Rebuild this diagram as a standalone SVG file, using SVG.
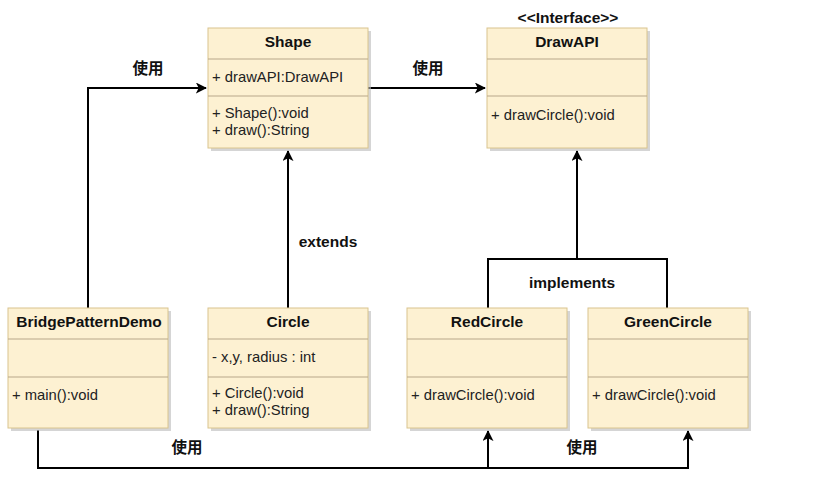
<svg xmlns="http://www.w3.org/2000/svg" width="824" height="479" viewBox="0 0 824 479">
  <style>
    .box { fill: #fdf1d2; stroke: #d9c48e; stroke-width: 1; }
    .shadow { fill: #b9b9b9; opacity: 0.6; }
    .div { stroke: #b8a78a; stroke-width: 1; }
    .title { font-family: "Liberation Sans", Arial, sans-serif; font-size: 15.5px; font-weight: bold; fill: #111; text-anchor: middle; }
    .mem { font-family: "Liberation Sans", Arial, sans-serif; font-size: 14.8px; fill: #222; }
    .lbl { font-family: "Liberation Sans", "Noto Sans CJK SC", sans-serif; font-size: 15.5px; font-weight: bold; fill: #111; text-anchor: middle; }
    .edge { fill: none; stroke: #000; stroke-width: 2; }
  </style>
  <defs>
    <marker id="arrow" viewBox="0 0 12 12" refX="11" refY="6" markerWidth="11" markerHeight="11" markerUnits="userSpaceOnUse" orient="auto">
      <path d="M0,0 L12,6 L0,12 L3,6 Z" fill="#000"/>
    </marker>
  </defs>
  <rect width="824" height="479" fill="#fff"/>

  <g id="connectors">
    <path class="edge" d="M88,308 V88 H206" marker-end="url(#arrow)"/>
    <path class="edge" d="M368,88 H485" marker-end="url(#arrow)"/>
    <path class="edge" d="M288,308 V151" marker-end="url(#arrow)"/>
    <path class="edge" d="M488,308 V259 H667 V308"/>
    <path class="edge" d="M577,259 V151" marker-end="url(#arrow)"/>
    <path class="edge" d="M38,430 V468 H688 V431" marker-end="url(#arrow)"/>
    <path class="edge" d="M488,468 V431" marker-end="url(#arrow)"/>
    <text class="lbl" x="148" y="74">使用</text>
    <text class="lbl" x="428" y="74">使用</text>
    <text class="lbl" x="328" y="247">extends</text>
    <text class="lbl" x="572" y="288">implements</text>
    <text class="lbl" x="187" y="453">使用</text>
    <text class="lbl" x="582" y="453">使用</text>
  </g>

  <g id="shape">
    <rect class="shadow" x="211" y="31" width="160" height="120"/>
    <rect class="box" x="208" y="28" width="160" height="120"/>
    <line class="div" x1="208" y1="59" x2="368" y2="59"/>
    <line class="div" x1="208" y1="96" x2="368" y2="96"/>
    <text class="title" x="288" y="47">Shape</text>
    <text class="mem" x="212" y="82">+ drawAPI:DrawAPI</text>
    <text class="mem" x="212" y="118">+ Shape():void</text>
    <text class="mem" x="212" y="135">+ draw():String</text>
  </g>

  <g id="drawapi">
    <text class="title" x="568" y="23">&lt;&lt;Interface&gt;&gt;</text>
    <rect class="shadow" x="490" y="31" width="160" height="120"/>
    <rect class="box" x="487" y="28" width="160" height="120"/>
    <line class="div" x1="487" y1="59" x2="647" y2="59"/>
    <line class="div" x1="487" y1="96" x2="647" y2="96"/>
    <text class="title" x="567" y="47">DrawAPI</text>
    <text class="mem" x="491" y="120">+ drawCircle():void</text>
  </g>

  <g id="bridgepatterndemo">
    <rect class="shadow" x="11" y="311" width="160" height="120"/>
    <rect class="box" x="8" y="308" width="160" height="120"/>
    <line class="div" x1="8" y1="339" x2="168" y2="339"/>
    <line class="div" x1="8" y1="377" x2="168" y2="377"/>
    <text class="title" x="89" y="327">BridgePatternDemo</text>
    <text class="mem" x="12" y="400">+ main():void</text>
  </g>

  <g id="circle">
    <rect class="shadow" x="211" y="311" width="160" height="120"/>
    <rect class="box" x="208" y="308" width="160" height="120"/>
    <line class="div" x1="208" y1="339" x2="368" y2="339"/>
    <line class="div" x1="208" y1="377" x2="368" y2="377"/>
    <text class="title" x="288" y="327">Circle</text>
    <text class="mem" x="212" y="362">- x,y, radius : int</text>
    <text class="mem" x="212" y="398">+ Circle():void</text>
    <text class="mem" x="212" y="415">+ draw():String</text>
  </g>

  <g id="redcircle">
    <rect class="shadow" x="410" y="311" width="160" height="120"/>
    <rect class="box" x="407" y="308" width="160" height="120"/>
    <line class="div" x1="407" y1="339" x2="567" y2="339"/>
    <line class="div" x1="407" y1="377" x2="567" y2="377"/>
    <text class="title" x="487" y="327">RedCircle</text>
    <text class="mem" x="411" y="400">+ drawCircle():void</text>
  </g>

  <g id="greencircle">
    <rect class="shadow" x="591" y="311" width="160" height="120"/>
    <rect class="box" x="588" y="308" width="160" height="120"/>
    <line class="div" x1="588" y1="339" x2="748" y2="339"/>
    <line class="div" x1="588" y1="377" x2="748" y2="377"/>
    <text class="title" x="668" y="327">GreenCircle</text>
    <text class="mem" x="592" y="400">+ drawCircle():void</text>
  </g>
</svg>
